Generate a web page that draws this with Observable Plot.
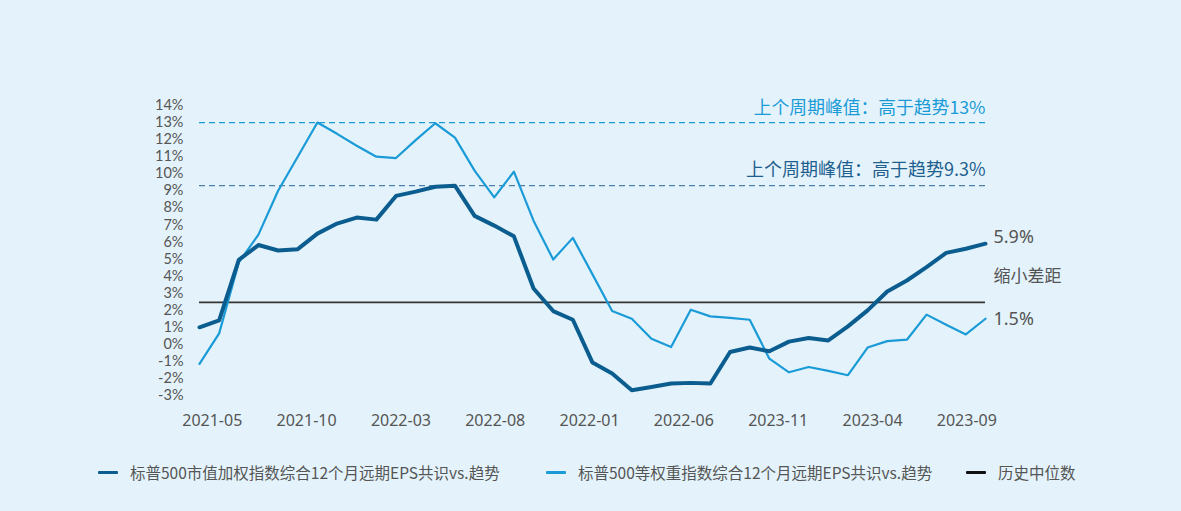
<!DOCTYPE html>
<html>
<head>
<meta charset="utf-8">
<script src="https://cdn.jsdelivr.net/npm/d3@7"></script>
<script src="https://cdn.jsdelivr.net/npm/@observablehq/plot@0.6"></script>
<style>
  html, body { margin: 0; padding: 0; background: #e4f3fb; }
  body { width: 1181px; height: 511px; overflow: hidden; font-family: "Noto Sans", "Noto Sans CJK SC", sans-serif; }
  #chart svg { display: block; background: #e4f3fb; }
  .legend { position: relative; height: 40px; color: #555; font-size: 15.5px; font-family: "Noto Sans CJK SC", "Noto Sans", sans-serif; }
  .legend .item { display: flex; align-items: center; position: absolute; white-space: nowrap; }
  .legend .sw { width: 20px; height: 3px; margin-right: 12px; border-radius: 1px; }
</style>
</head>
<body>
<div id="chart"></div>
<div class="legend" id="legend"></div>
<script>
// Series (percent above/below trend), one value per period
const capWeighted = [1.0, 1.4, 4.95, 5.82, 5.5, 5.58, 6.49, 7.08, 7.43, 7.31, 8.7, 8.95, 9.24, 9.3, 7.53, 6.96, 6.33, 3.27, 1.95, 1.44,
  -1.07, -1.71, -2.69, -2.5, -2.3, -2.26, -2.3, -0.45, -0.19, -0.41, 0.16, 0.37, 0.23, 1.05, 1.99, 3.1, 3.74, 4.52, 5.36, 5.6, 5.9];
const equalWeighted = [-1.15, 0.64, 4.8, 6.43, 9.0, 11.0, 13.0, 12.34, 11.64, 11.0, 10.92, 11.97, 12.96, 12.12, 10.18, 8.61, 10.12, 7.25, 4.97, 6.24,
  4.1, 1.95, 1.5, 0.33, -0.16, 2.03, 1.64, 1.55, 1.44, -0.84, -1.64, -1.33, -1.56, -1.81, -0.19, 0.19, 0.27, 1.74, 1.15, 0.58, 1.5];
const historicalMedian = 2.46;
const peakEqual = 13;
const peakCap = 9.3;
const xTickLabels = ["2021-05", "2021-10", "2022-03", "2022-08", "2022-01", "2022-06", "2023-11", "2023-04", "2023-09"];
const xTickPositions = [0.65, 5.45, 10.25, 15.05, 19.85, 24.65, 29.45, 34.25, 39.05];
const yTicks = d3.range(-3, 15);
const seriesNames = ["标普500市值加权指数综合12个月远期EPS共识vs.趋势", "标普500等权重指数综合12个月远期EPS共识vs.趋势", "历史中位数"];
const annoEqual = "上个周期峰值：高于趋势13%";
const annoCap = "上个周期峰值：高于趋势9.3%";
const endLabels = ["5.9%", "缩小差距", "1.5%"];

const DARK = "#0b5d8f", LIGHT = "#1a9bd7", MEDIAN = "#333333", TXT = "#555555";

const capData = capWeighted.map((v, i) => ({i, v}));
const eqData = equalWeighted.map((v, i) => ({i, v}));
const n = capWeighted.length - 1;

const plot = Plot.plot({
  width: 1181,
  height: 440,
  marginLeft: 199,
  marginRight: 196,
  marginTop: 105,
  marginBottom: 45,
  style: {background: "#e4f3fb", fontFamily: "'Noto Sans', 'Noto Sans CJK SC', sans-serif", color: TXT},
  x: {domain: [0, n], axis: null, label: null},
  y: {domain: [-3, 14], axis: null, label: null},
  marks: [
    Plot.axisY(yTicks, {tickSize: 0, tickPadding: 16, fontSize: 14.5, fontFamily: "Lato, 'Liberation Sans', sans-serif", fill: TXT, label: null, tickFormat: d => d + "%"}),
    Plot.axisX(xTickPositions, {tickSize: 0, tickPadding: 19, fontSize: 16, fill: TXT, label: null, tickFormat: (d, k) => xTickLabels[k]}),
    Plot.ruleY([peakEqual], {x1: 0, x2: n, stroke: LIGHT, strokeWidth: 1.3, strokeDasharray: "6,4"}),
    Plot.ruleY([peakCap], {x1: 0, x2: n, stroke: "#4a7fae", strokeWidth: 1.3, strokeDasharray: "6,4"}),
    Plot.ruleY([historicalMedian], {x1: 0, x2: n, stroke: MEDIAN, strokeWidth: 1.8}),
    Plot.line(eqData, {x: "i", y: "v", stroke: LIGHT, strokeWidth: 2.2}),
    Plot.line(capData, {x: "i", y: "v", stroke: DARK, strokeWidth: 4}),
    Plot.text([annoEqual], {x: n, y: peakEqual, dy: -14, textAnchor: "end", fill: LIGHT, fontSize: 17.8, fontFamily: "'Noto Sans CJK SC', sans-serif"}),
    Plot.text([annoCap], {x: n, y: peakCap, dy: -15, textAnchor: "end", fill: "#1f5f8f", fontSize: 18, fontFamily: "'Noto Sans CJK SC', sans-serif"}),
    Plot.text([endLabels[0]], {x: n, y: capWeighted[n], dx: 8, dy: -6, textAnchor: "start", fill: TXT, fontSize: 18}),
    Plot.text([endLabels[1]], {x: n, y: (capWeighted[n] + equalWeighted[n]) / 2 + 0.3, dx: 8, textAnchor: "start", fill: TXT, fontSize: 17, fontFamily: "'Noto Sans CJK SC', sans-serif"}),
    Plot.text([endLabels[2]], {x: n, y: equalWeighted[n], dx: 8, textAnchor: "start", fill: TXT, fontSize: 18})
  ]
});
document.getElementById("chart").appendChild(plot);

const legend = document.getElementById("legend");
const colors = [DARK, LIGHT, "#111"];
const lefts = [98, 546, 966];
seriesNames.forEach((name, k) => {
  const it = document.createElement("div");
  it.className = "item";
  it.style.left = lefts[k] + "px";
  it.style.top = "21px";
  const sw = document.createElement("span");
  sw.className = "sw";
  sw.style.background = colors[k];
  const t = document.createElement("span");
  t.textContent = name;
  it.appendChild(sw); it.appendChild(t);
  legend.appendChild(it);
});
</script>
</body>
</html>
